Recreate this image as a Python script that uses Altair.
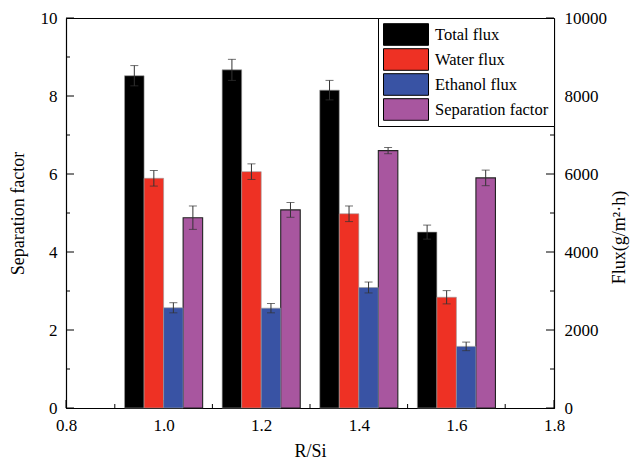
import altair as alt
import pandas as pd

# ---- data ----
r_si = [1.0, 1.2, 1.4, 1.6]
total_flux = [8520, 8670, 8150, 4510]
total_err = [260, 270, 250, 180]
water_flux = [5890, 6060, 4980, 2840]
water_err = [200, 200, 200, 170]
ethanol_flux = [2570, 2560, 3090, 1580]
ethanol_err = [130, 120, 140, 110]
sep_factor = [4.88, 5.08, 6.60, 5.90]
sep_err = [0.30, 0.19, 0.08, 0.20]

series_names = ["Total flux", "Water flux", "Ethanol flux", "Separation factor"]
series_colors = ["#000000", "#EE3124", "#3953A4", "#A8569F"]

x_major = [0.8, 1.0, 1.2, 1.4, 1.6, 1.8]
x_minor = [0.9, 1.1, 1.3, 1.5, 1.7]
sep_major = [0, 2, 4, 6, 8, 10]
sep_minor = [1, 3, 5, 7, 9]
flux_major = [0, 2000, 4000, 6000, 8000, 10000]
flux_minor = [1000, 3000, 5000, 7000, 9000]

# ---- layout (bar placement within a group, plot size) ----
bar_offsets = [-0.06, -0.02, 0.02, 0.06]
bar_half = 0.02
W, H = 488, 390
MAJOR, MINOR = 8, 4


def rows(name, offset, values, errs):
    out = []
    for x, v, e in zip(r_si, values, errs):
        out.append(dict(series=name, xc=x + offset, x0=x + offset - bar_half,
                        x1=x + offset + bar_half, value=v, lo=v - e, hi=v + e, base=0))
    return out


flux_df = pd.DataFrame(
    rows(series_names[0], bar_offsets[0], total_flux, total_err)
    + rows(series_names[1], bar_offsets[1], water_flux, water_err)
    + rows(series_names[2], bar_offsets[2], ethanol_flux, ethanol_err)
)
sep_df = pd.DataFrame(rows(series_names[3], bar_offsets[3], sep_factor, sep_err))

FONT = "Liberation Serif, DejaVu Serif, serif"

x_scale = alt.Scale(domain=[0.8, 1.8], nice=False, zero=False)
sep_scale = alt.Scale(domain=[0, 10], nice=False)
flux_scale = alt.Scale(domain=[0, 10000], nice=False)
color_scale = alt.Scale(domain=series_names, range=series_colors)

legend = alt.Legend(
    title=None, orient="top-right", offset=0,
    symbolType="M-1,-0.48H1V0.48H-1Z", symbolSize=2025,
    symbolStrokeColor="black", symbolStrokeWidth=1, symbolOpacity=1,
    clipHeight=23, rowPadding=2, labelOffset=6, padding=5,
    labelFont=FONT, labelFontSize=16.5, labelColor="black", labelLimit=250,
    strokeColor="black", fillColor="white",
)

x_axis = alt.Axis(
    values=x_major, format=".1f", ticks=False,
    labelPadding=9, labelFlush=False, labelOverlap=False, grid=False,
    title="R/Si", titlePadding=9,
)
sep_axis = alt.Axis(
    values=sep_major, format="d", ticks=False,
    labelPadding=9, labelOverlap=False, labelFlush=False, grid=False,
    title="Separation factor", titlePadding=13,
)
flux_axis = alt.Axis(
    values=flux_major, format="d", ticks=False,
    labelPadding=10, labelOverlap=False, labelFlush=False, grid=False,
    title="Flux(g/m²·h)", titleAngle=270, titlePadding=22, titleY=219,
)

ERR_COLOR = "#333333"


def tick_rules_y(values, scale, axis, x_from, x_to):
    return alt.Chart(pd.DataFrame({"v": values})).mark_rule(color="black", strokeWidth=1).encode(
        y=alt.Y("v:Q", scale=scale, axis=axis),
        x=alt.value(x_from), x2=alt.value(x_to),
    )


def tick_rules_x(values, length):
    return alt.Chart(pd.DataFrame({"v": values})).mark_rule(color="black", strokeWidth=1).encode(
        x=alt.X("v:Q", scale=x_scale, axis=x_axis),
        y=alt.value(H), y2=alt.value(H - length),
    )


def err_layers(df, scale, axis):
    rule = alt.Chart(df).mark_rule(color=ERR_COLOR, strokeWidth=1).encode(
        x=alt.X("xc:Q", scale=x_scale, axis=x_axis),
        y=alt.Y("lo:Q", scale=scale, axis=axis),
        y2="hi",
    )
    top = alt.Chart(df).mark_tick(orient="horizontal", size=8, thickness=1, color=ERR_COLOR).encode(
        x=alt.X("xc:Q", scale=x_scale, axis=x_axis),
        y=alt.Y("hi:Q", scale=scale, axis=axis),
    )
    bot = alt.Chart(df).mark_tick(orient="horizontal", size=8, thickness=1, color=ERR_COLOR).encode(
        x=alt.X("xc:Q", scale=x_scale, axis=x_axis),
        y=alt.Y("lo:Q", scale=scale, axis=axis),
    )
    return [rule, top, bot]


# ---- separation factor layer (left axis) ----
sep_bars = alt.Chart(sep_df).mark_rect(stroke="#222222", strokeWidth=1.1).encode(
    x=alt.X("x0:Q", scale=x_scale, axis=x_axis),
    x2="x1",
    y=alt.Y("value:Q", scale=sep_scale, axis=sep_axis),
    y2="base",
    color=alt.Color("series:N", scale=color_scale, legend=legend),
)
sep_layer = alt.layer(
    sep_bars, *err_layers(sep_df, sep_scale, sep_axis),
    tick_rules_y(sep_major, sep_scale, sep_axis, 0, MAJOR),
    tick_rules_y(sep_minor, sep_scale, sep_axis, 0, MINOR),
    tick_rules_x(x_major, MAJOR),
    tick_rules_x(x_minor, MINOR),
)

# ---- flux layer (right axis) ----
flux_bars = alt.Chart(flux_df).mark_rect(stroke="#9a9a9a", strokeWidth=0.6).encode(
    x=alt.X("x0:Q", scale=x_scale, axis=x_axis),
    x2="x1",
    y=alt.Y("value:Q", scale=flux_scale, axis=flux_axis),
    y2="base",
    color=alt.Color("series:N", scale=color_scale, legend=legend),
)
flux_layer = alt.layer(
    flux_bars, *err_layers(flux_df, flux_scale, flux_axis),
    tick_rules_y(flux_major, flux_scale, flux_axis, W, W - MAJOR),
    tick_rules_y(flux_minor, flux_scale, flux_axis, W, W - MINOR),
)

chart = (
    alt.layer(sep_layer, flux_layer)
    .resolve_scale(y="independent")
    .properties(
        width=W, height=H,
        padding={"left": 1, "top": 1, "right": 1, "bottom": 1},
        background="white",
    )
    .configure_view(stroke="black", strokeWidth=1)
    .configure_axis(
        labelFont=FONT, labelFontSize=17, labelColor="black",
        titleFont=FONT, titleFontSize=18, titleFontWeight="normal", titleColor="black",
        domainColor="black", domainWidth=1.2,
    )
)

chart.save("out.html", embed_options={"renderer": "svg", "actions": False})
